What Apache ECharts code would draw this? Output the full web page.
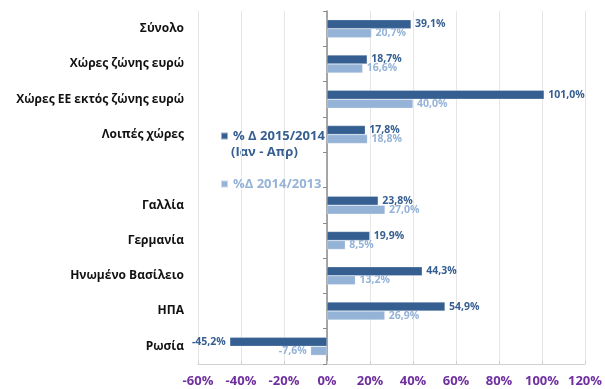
<!DOCTYPE html>
<html>
<head>
<meta charset="utf-8">
<script src="https://cdn.jsdelivr.net/npm/echarts@6/dist/echarts.min.js"></script>
<style>
  html, body { margin: 0; padding: 0; background: #fff; }
  #chart { width: 605px; height: 389px; }
</style>
</head>
<body>
<div id="chart"></div>
<script>
// Categories (top to bottom); the empty entry leaves room for the legend
const categories = [
  'Σύνολο',
  'Χώρες ζώνης ευρώ',
  'Χώρες ΕΕ εκτός ζώνης ευρώ',
  'Λοιπές χώρες',
  '',
  'Γαλλία',
  'Γερμανία',
  'Ηνωμένο Βασίλειο',
  'ΗΠΑ',
  'Ρωσία'
];

// % change 2015/2014 (Jan - Apr)
const change2015 = [39.1, 18.7, 101.0, 17.8, null, 23.8, 19.9, 44.3, 54.9, -45.2];
// % change 2014/2013
const change2014 = [20.7, 16.6, 40.0, 18.8, null, 27.0, 8.5, 13.2, 26.9, -7.6];

const seriesNames = ['% Δ 2015/2014', '%Δ 2014/2013'];
const periodNote = '(Ιαν - Απρ)';

const xTicks = { min: -60, max: 120, interval: 20 };

const darkBlue = '#365f91';
const lightBlue = '#95b3d7';
const font = '"Open Sans", "Noto Sans", sans-serif';

const fmt = v => v.toFixed(1).replace('.', ',') + '%';

function toItems(values) {
  return values.map(v => v === null ? null : {
    value: v,
    label: { position: v < 0 ? 'left' : 'right' }
  });
}

const chart = echarts.init(document.getElementById('chart'), null, { renderer: 'canvas' });

chart.setOption({
  animation: false,
  backgroundColor: '#ffffff',
  textStyle: { fontFamily: font },
  grid: { left: 198, right: 17, top: 11, bottom: 25, containLabel: false },
  legend: {
    orient: 'vertical',
    left: 215,
    top: 121,
    itemWidth: 7,
    itemHeight: 7,
    itemGap: 28,
    icon: 'rect',
    textStyle: { fontFamily: font, fontSize: 13, fontWeight: 'bold', lineHeight: 20 },
    data: [
      { name: seriesNames[0], textStyle: { color: darkBlue } },
      { name: seriesNames[1], textStyle: { color: lightBlue } }
    ]
  },
  // second line of the first legend entry
  graphic: [{
    type: 'text',
    left: 231,
    top: 146,
    style: {
      text: periodNote,
      fill: darkBlue,
      fontFamily: font,
      fontSize: 13,
      fontWeight: 'bold'
    }
  }],
  xAxis: {
    type: 'value',
    min: xTicks.min,
    max: xTicks.max,
    interval: xTicks.interval,
    axisLine: { show: true, onZero: false, lineStyle: { color: '#d0d0d0' } },
    axisTick: { show: true, length: 3, inside: true, lineStyle: { color: '#d0d0d0' } },
    splitLine: { show: true, lineStyle: { color: '#e6e6e6', width: 1 } },
    axisLabel: {
      color: '#7030a0',
      fontFamily: font,
      fontSize: 13,
      fontWeight: 'bold',
      margin: 11,
      formatter: v => v + '%'
    }
  },
  yAxis: [
    {
      type: 'category',
      data: categories,
      inverse: true,
      position: 'left',
      axisLine: { show: false, onZero: false },
      axisTick: { show: false },
      splitLine: { show: false },
      axisLabel: {
        color: '#111111',
        fontFamily: font,
        fontSize: 12,
        fontWeight: 'bold',
        margin: 14
      }
    },
    {
      type: 'category',
      data: categories,
      inverse: true,
      position: 'left',
      axisLine: { show: true, onZero: true, lineStyle: { color: '#8c8c8c', width: 1.5 } },
      axisTick: { show: true, length: 4, lineStyle: { color: '#8c8c8c' } },
      axisLabel: { show: false },
      splitLine: { show: false }
    }
  ],
  series: [
    {
      name: seriesNames[0],
      type: 'bar',
      yAxisIndex: 0,
      data: toItems(change2015),
      barWidth: 9,
      barGap: '0%',
      itemStyle: { color: darkBlue, borderColor: 'rgba(255,255,255,0.5)', borderWidth: 0.5 },
      label: {
        show: true,
        color: darkBlue,
        fontFamily: font,
        fontSize: 10.5,
        fontWeight: 'bold',
        distance: 4,
        formatter: p => fmt(p.value)
      }
    },
    {
      name: seriesNames[1],
      type: 'bar',
      yAxisIndex: 0,
      data: toItems(change2014),
      barWidth: 9,
      barGap: '0%',
      itemStyle: { color: lightBlue, borderColor: 'rgba(255,255,255,0.5)', borderWidth: 0.5 },
      label: {
        show: true,
        color: lightBlue,
        fontFamily: font,
        fontSize: 10.5,
        fontWeight: 'bold',
        distance: 4,
        formatter: p => fmt(p.value)
      }
    }
  ]
});
</script>
</body>
</html>
